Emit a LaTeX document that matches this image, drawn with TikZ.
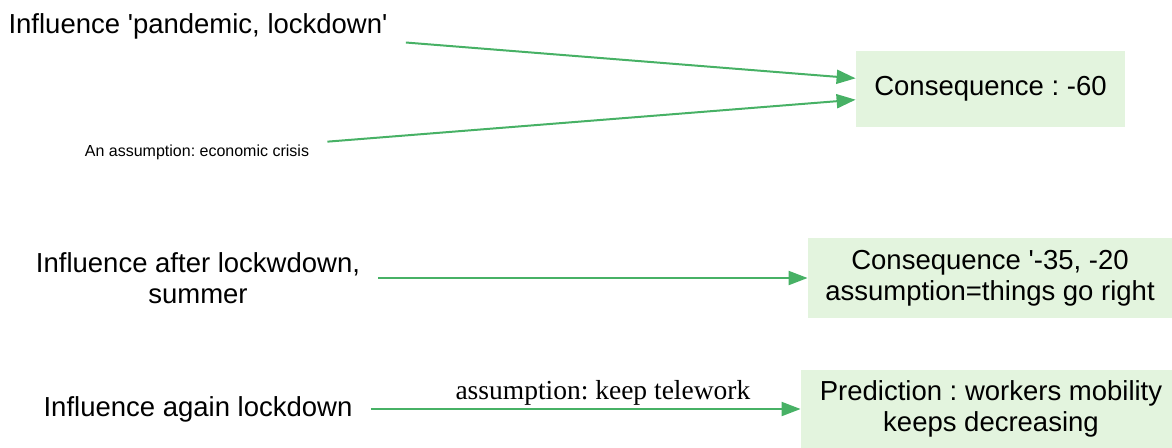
\documentclass[tikz,border=0pt]{standalone}
\usepackage{fontspec}
\setmainfont{Liberation Sans}
\newfontfamily\edgefont{Liberation Serif}
\usetikzlibrary{arrows.meta}
\definecolor{linkgreen}{HTML}{47B165}
\definecolor{boxgreen}{HTML}{E3F4DE}
\frenchspacing
\tikzset{influence/.style={inner xsep=9pt, inner ysep=3pt, align=center,
                           font=\fontsize{13.75}{15.5}\selectfont},
        consequence/.style={fill=boxgreen, draw=none, inner sep=4pt, align=center,
                            font=\fontsize{13.75}{15.5}\selectfont},
        link/.style={draw=linkgreen, line width=1pt,
                     -{Triangle[length=9.5pt,width=7pt]}},
        assumption/.style={font=\edgefont\fontsize{13.75}{15.5}\selectfont,
                           inner sep=1.5pt},
        }
\begin{document}
\begin{tikzpicture}[x=0.5pt,y=-0.5pt]
    \useasboundingbox (0,0) rectangle (1172,447);

    \node[influence] (pandemic) at (198,26) {Influence \textquotesingle pandemic, lockdown\textquotesingle};
    \node[influence, font=\fontsize{8}{9.6}\selectfont] (crisis) at (197,152) {An assumption: economic crisis};
    \node[influence] (summer) at (198,278) {Influence after lockwdown,\\summer};
    \node[influence] (again) at (198,409) {Influence again lockdown};

    \node[consequence, minimum width=134.5pt, minimum height=38pt] (minus60) at (990.5,89) {Consequence : -60};
    \node[consequence, minimum width=182pt, minimum height=40pt] (minus35) at (990,278) {Consequence \textquotesingle-35, -20\\assumption=things go right};
    \node[consequence, minimum width=190pt, minimum height=39pt] (mobility) at (991,409) {Prediction : workers mobility\\keeps decreasing};

    \draw[link] (pandemic) -- (minus60);
    \draw[link] (crisis) -- (minus60);
    \draw[link] (summer) -- (minus35);
    \draw[link] (again) -- (mobility) node[pos=0.54, above, assumption]{assumption: keep telework};

\end{tikzpicture}
\end{document}
